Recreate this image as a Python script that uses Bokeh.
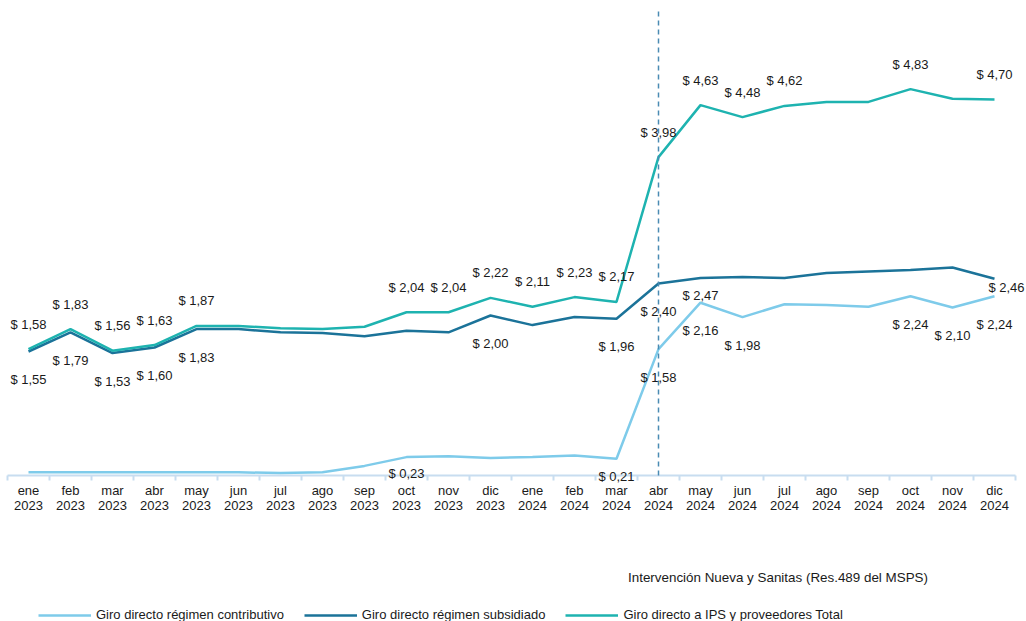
from bokeh.plotting import figure
from bokeh.models import (Range1d, FixedTicker, Label, Legend, LegendItem, LinearAxis)
from bokeh.core.properties import value
from bokeh.embed import file_html
from bokeh.resources import INLINE

# ---------------- data ----------------
months = ["ene", "feb", "mar", "abr", "may", "jun", "jul", "ago", "sep", "oct", "nov", "dic"] * 2
years = ["2023"] * 12 + ["2024"] * 12

contributivo = [0.04, 0.04, 0.04, 0.04, 0.04, 0.04, 0.03, 0.04, 0.12, 0.23, 0.24, 0.22,
                0.23, 0.25, 0.21, 1.58, 2.16, 1.98, 2.14, 2.13, 2.11, 2.24, 2.10, 2.24]
subsidiado = [1.55, 1.79, 1.53, 1.60, 1.83, 1.83, 1.79, 1.78, 1.74, 1.81, 1.79, 2.00,
              1.88, 1.98, 1.96, 2.40, 2.47, 2.48, 2.47, 2.53, 2.55, 2.57, 2.60, 2.46]
total = [1.58, 1.83, 1.56, 1.63, 1.87, 1.87, 1.84, 1.83, 1.86, 2.04, 2.04, 2.22,
         2.11, 2.23, 2.17, 3.98, 4.63, 4.48, 4.62, 4.67, 4.67, 4.83, 4.71, 4.70]

labeled_total = [0, 1, 2, 3, 4, 9, 10, 11, 12, 13, 14, 15, 16, 17, 18, 21, 23]
labeled_subs = [0, 1, 2, 3, 4, 11, 14, 15, 16, 23]
labeled_contrib = [9, 14, 15, 16, 17, 21, 22, 23]

intervention_index = 15  # abr 2024

series_names = ["Giro directo régimen contributivo",
                "Giro directo régimen subsidiado",
                "Giro directo a IPS y proveedores Total"]
intervention_text = "Intervención Nueva y Sanitas (Res.489 del MSPS)"

# ---------------- style / layout ----------------
C_LIGHT = "#7ecbea"
C_DARK = "#1b7399"
C_TEAL = "#1eb3b0"
C_DASH = "#4a8bb3"
C_AXIS = "#c8ddf0"
FONT = "Liberation Sans"

W, H = 1025, 621
X0, DX = 28, 42        # pixel of first category, pixels per category
Y0, DY = 475, 80       # pixel of zero, pixels per unit

# label offsets in pixels (screen y downward)
off_total = {}
off_subs = {16: (0, 18), 23: (12, 9)}
off_contrib = {9: (0, 16), 14: (0, 18)}

x = list(range(len(months)))

p = figure(width=W, height=H, output_backend="svg", toolbar_location=None,
           x_axis_type=None, y_axis_type=None,
           x_range=Range1d(-X0 / DX, (W - X0) / DX),
           y_range=Range1d(-(H - Y0) / DY, Y0 / DY),
           min_border_left=0, min_border_right=0, min_border_top=0,
           min_border_bottom=0)
p.outline_line_color = None
p.background_fill_color = "white"
p.border_fill_color = "white"

# axis baseline
p.segment(x0=[-0.5], y0=[0], x1=[len(x) - 0.5], y1=[0], line_color=C_AXIS, line_width=2)

ax = LinearAxis(fixed_location=0)
ax.ticker = FixedTicker(ticks=x, minor_ticks=[i - 0.5 for i in range(len(x) + 1)])
ax.major_label_overrides = {i: f"{m}\n{y}" for i, (m, y) in enumerate(zip(months, years))}
ax.axis_line_color = None
ax.major_tick_line_color = None
ax.minor_tick_line_color = C_AXIS
ax.minor_tick_line_width = 2
ax.minor_tick_in = 0
ax.minor_tick_out = 5
ax.major_label_standoff = 1
ax.major_label_text_font = FONT
ax.major_label_text_font_size = "13px"
ax.major_label_text_color = "#1a1a1a"
ax.major_label_text_line_height = 1.05
p.add_layout(ax, "below")

# lines
r_light = p.line(x, contributivo, line_color=C_LIGHT, line_width=2.5)
r_dark = p.line(x, subsidiado, line_color=C_DARK, line_width=2.5)
r_teal = p.line(x, total, line_color=C_TEAL, line_width=2.5)

# intervention dashed line
p.segment(x0=[intervention_index], y0=[0], x1=[intervention_index], y1=[(Y0 - 11) / DY],
          line_color=C_DASH, line_width=1.5, line_dash="5 4")


def fmt(v):
    return "$ " + f"{v:.2f}".replace(".", ",")


def add_labels(vals, idxs, default_dy, offsets):
    for i in idxs:
        dx, dy = offsets.get(i, (0, default_dy))
        p.text(x=[i], y=[vals[i]], text=[fmt(vals[i])], x_offset=dx, y_offset=dy,
               text_align="center", text_baseline="middle",
               text_font=value(FONT), text_font_size="13px", text_color="#1a1a1a")


add_labels(total, labeled_total, -25, off_total)
add_labels(subsidiado, labeled_subs, 28, off_subs)
add_labels(contributivo, labeled_contrib, 28, off_contrib)

# intervention caption
p.add_layout(Label(x=(777.5 - X0) / DX, y=(Y0 - 577) / DY, text=intervention_text,
                   text_align="center", text_baseline="middle",
                   text_font=FONT, text_font_size="13.4px", text_color="#1a1a1a"))

legend = Legend(items=[LegendItem(label=series_names[0], renderers=[r_light]),
                       LegendItem(label=series_names[1], renderers=[r_dark]),
                       LegendItem(label=series_names[2], renderers=[r_teal])],
                orientation="horizontal", location=(38, -1),
                glyph_width=53, glyph_height=14, label_height=14, label_standoff=5,
                spacing=20, padding=0, margin=0,
                label_text_font=FONT, label_text_font_size="13px",
                label_text_color="#1a1a1a",
                border_line_color=None, background_fill_alpha=0)
p.add_layout(legend)

open("out.html", "w").write(file_html(p, INLINE))
